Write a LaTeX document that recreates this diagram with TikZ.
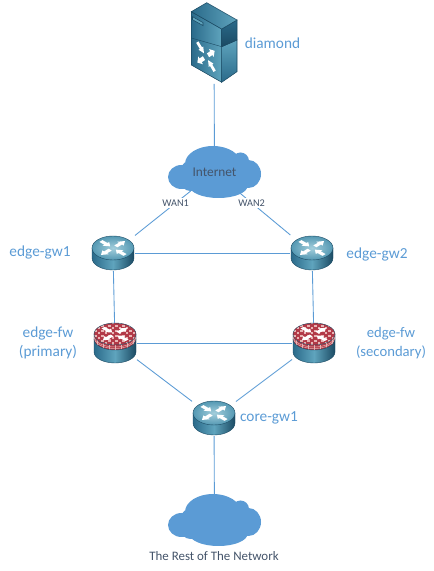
\documentclass[tikz,border=0pt]{standalone}
\usepackage{fontspec}
\setmainfont{Carlito}
\definecolor{linkblue}{HTML}{5B9BD5}
\definecolor{labeldark}{HTML}{44546A}
\definecolor{icondark}{HTML}{1B4A63}
\definecolor{iconside}{HTML}{2A6A8A}
\definecolor{iconmid}{HTML}{5FA4BD}
\definecolor{iconlight}{HTML}{A3CEDC}
\definecolor{wallred}{HTML}{B23A48}
\definecolor{wallpale}{HTML}{E8B4B4}

% white arrows of the router and server symbols
\newcommand{\flowarrows}{%
  \foreach \ang in {45,225}
    \fill[white,rotate=\ang] (4,-2.2) -- (10.5,-2.2) -- (10.5,-4.6) -- (17,0) -- (10.5,4.6) -- (10.5,2.2) -- (4,2.2) -- cycle;
  \foreach \ang in {135,315}
    \fill[white,rotate=\ang] (17,-2.2) -- (10,-2.2) -- (10,-4.6) -- (4,0) -- (10,4.6) -- (10,2.2) -- (17,2.2) -- cycle;
}

\tikzset{
  link/.style={draw=linkblue, line width=0.65pt},
  iconbox/.style={inner sep=0pt, outer sep=0pt},
  gwbox/.style={iconbox, minimum width=33pt, minimum height=27pt},
  fwbox/.style={iconbox, minimum width=33pt, minimum height=30pt},
  serverbox/.style={iconbox, minimum width=35pt, minimum height=61.5pt},
  cloudbox/.style={iconbox, minimum width=45pt, minimum height=28.5pt, text=labeldark, font=\fontsize{10}{12}\selectfont},
  hostlabel/.style={text=linkblue, align=center, font=\fontsize{11.5}{14.5}\selectfont},
  wanlabel/.style={fill=white, inner sep=1pt, text=labeldark, font=\fontsize{7.7}{9}\selectfont},
  routericon/.pic={
    \draw[icondark, line width=0.3pt, left color=iconside, right color=icondark, middle color=iconmid]
      (-21,5) -- (-21,-5) arc[start angle=180, end angle=360, x radius=21, y radius=12] -- (21,5) -- cycle;
    \draw[icondark, line width=0.3pt, inner color=iconlight, outer color=iconmid!80!iconside] (0,5) ellipse [x radius=21, y radius=12];
    \begin{scope}[shift={(0,5)}, yscale=0.58]
      \flowarrows
    \end{scope}
  },
  firewallicon/.pic={
    \draw[icondark, line width=0.3pt, left color=iconside, right color=icondark, middle color=iconmid]
      (-21,9) -- (-21,-9) arc[start angle=180, end angle=360, x radius=21, y radius=11] -- (21,9) -- cycle;
    % brick band
    \begin{scope}
      \clip (-21,9) -- (-21,4) arc[start angle=180, end angle=360, x radius=21, y radius=11] -- (21,9) -- cycle;
      \fill[wallred] (-21,-9) rectangle (21,20);
      \foreach \dy in {7,5.5}
        \draw[wallpale, line width=0.35pt] (-21,\dy) arc[start angle=180, end angle=360, x radius=21, y radius=11];
      \foreach \bx in {-18,-12,...,18}
        \draw[wallpale, line width=0.3pt] (\bx,-9) -- (\bx,9);
    \end{scope}
    \draw[icondark, line width=0.3pt] (-21,4) arc[start angle=180, end angle=360, x radius=21, y radius=11];
    % top of the wall
    \begin{scope}
      \clip (0,9) ellipse [x radius=21, y radius=11];
      \fill[wallpale] (-21,-2) rectangle (21,20);
      \foreach \bx in {-22,-15,...,20}
        \foreach \by in {-2,3,...,18}
          \fill[wallred] (\bx,\by) rectangle +(4.5,3.2);
      \foreach \bx in {-18.5,-11.5,...,20}
        \foreach \by in {0.5,5.5,...,18}
          \fill[wallred] (\bx,\by) rectangle +(4.5,3.2);
    \end{scope}
    \draw[icondark, line width=0.3pt] (0,9) ellipse [x radius=21, y radius=11];
    \begin{scope}[shift={(0,9)}, yscale=0.52]
      \flowarrows
    \end{scope}
  },
  servericon/.pic={
    % left face, right face, top
    \draw[icondark, line width=0.4pt, left color=iconside, right color=iconmid] (-22.7,31.3) -- (7.7,14) -- (7.7,-39.3) -- (-22.7,-22) -- cycle;
    \draw[icondark, line width=0.4pt, top color=iconmid, bottom color=iconside] (7.7,-3.7) -- (23,3) -- (23,-28.7) -- (7.7,-39.3) -- cycle;
    \draw[icondark, line width=0.4pt, top color=iconside, bottom color=icondark] (7.7,14) -- (23,23) -- (23,3) -- (7.7,-3.7) -- cycle;
    \draw[icondark, line width=0.4pt, left color=iconside, right color=iconmid] (-7.3,40.3) -- (-22.7,31.3) -- (7.7,14) -- (23,23) -- cycle;
    \draw[icondark, line width=0.3pt] (-22.7,5) -- (7.7,-3.7);
    \draw[icondark, line width=0.4pt, fill=iconmid] (-21.5,26.3) -- (-11,20.4) -- (-11,17.4) -- (-21.5,23.3) -- cycle;
    \begin{scope}[shift={(-8,-13.7)}, cm={0.72,-0.36,0,0.85,(0,0)}]
      \flowarrows
    \end{scope}
  },
  cloudicon/.pic={
    \fill[linkblue] (-33,-5) ellipse [x radius=13.5, y radius=12] (-20,-2) circle [radius=15]
      (-1.5,8) ellipse [x radius=28, y radius=18] (26,11) circle [radius=8.5]
      (34,-2) ellipse [x radius=12.5, y radius=14] (4,-14) ellipse [x radius=29, y radius=12]
      (-24,-9) circle [radius=10] (20,-4) circle [radius=16];
  },
}

\begin{document}
\begin{tikzpicture}[x=0.75pt, y=0.75pt]
    \useasboundingbox (0,0) rectangle (433,571);

    % Server at the top
    \pic at (214,528) {servericon};
    \node[serverbox] (diamond) at (214,528) {};
    \node[hostlabel] (diamondlabel) at (272.5,528) {diamond};

    % Internet cloud
    \pic at (214.5,399) {cloudicon};
    \node[cloudbox] (internet) at (214.5,399) {Internet};

    % Edge gateways
    \pic at (113,318) {routericon};
    \node[gwbox] (gwone) at (113,318) {};
    \node[hostlabel] (gwonelabel) at (40,319) {edge-gw1};
    \pic at (312,318) {routericon};
    \node[gwbox] (gwtwo) at (312,318) {};
    \node[hostlabel] (gwtwolabel) at (377,317) {edge-gw2};

    % Firewalls
    \pic at (115,228) {firewallicon};
    \node[fwbox] (fwone) at (115,228) {};
    \node[hostlabel] (fwonelabel) at (48,228) {edge-fw\\(primary)};
    \pic at (314,228) {firewallicon};
    \node[fwbox] (fwtwo) at (314,228) {};
    \node[hostlabel, font=\fontsize{11}{14.5}\selectfont] (fwtwolabel) at (391,228) {edge-fw\\(secondary)};

    % Core gateway
    \pic at (214,153) {routericon};
    \node[gwbox] (core) at (214,153) {};
    \node[hostlabel] (corelabel) at (269,153) {core-gw1};

    % Cloud at the bottom
    \pic at (214.5,51) {cloudicon};
    \node[cloudbox] (rest) at (214.5,51) {};
    \node[text=labeldark, font=\fontsize{9.7}{11}\selectfont] (restlabel) at (214,15) {The Rest of The Network};

    % Links
    \draw[link] (diamond) -- (internet);
    \draw[link] (internet) -- node[wanlabel, pos=0.27] (wanone) {WAN1} (gwone);
    \draw[link] (internet) -- node[wanlabel, pos=0.27] (wantwo) {WAN2} (gwtwo);
    \draw[link] (gwone) -- (gwtwo);
    \draw[link] (gwone) -- (fwone);
    \draw[link] (gwtwo) -- (fwtwo);
    \draw[link] (fwone) -- (fwtwo);
    \draw[link] (fwone) -- (core);
    \draw[link] (fwtwo) -- (core);
    \draw[link] (core) -- (rest);
\end{tikzpicture}
\end{document}
